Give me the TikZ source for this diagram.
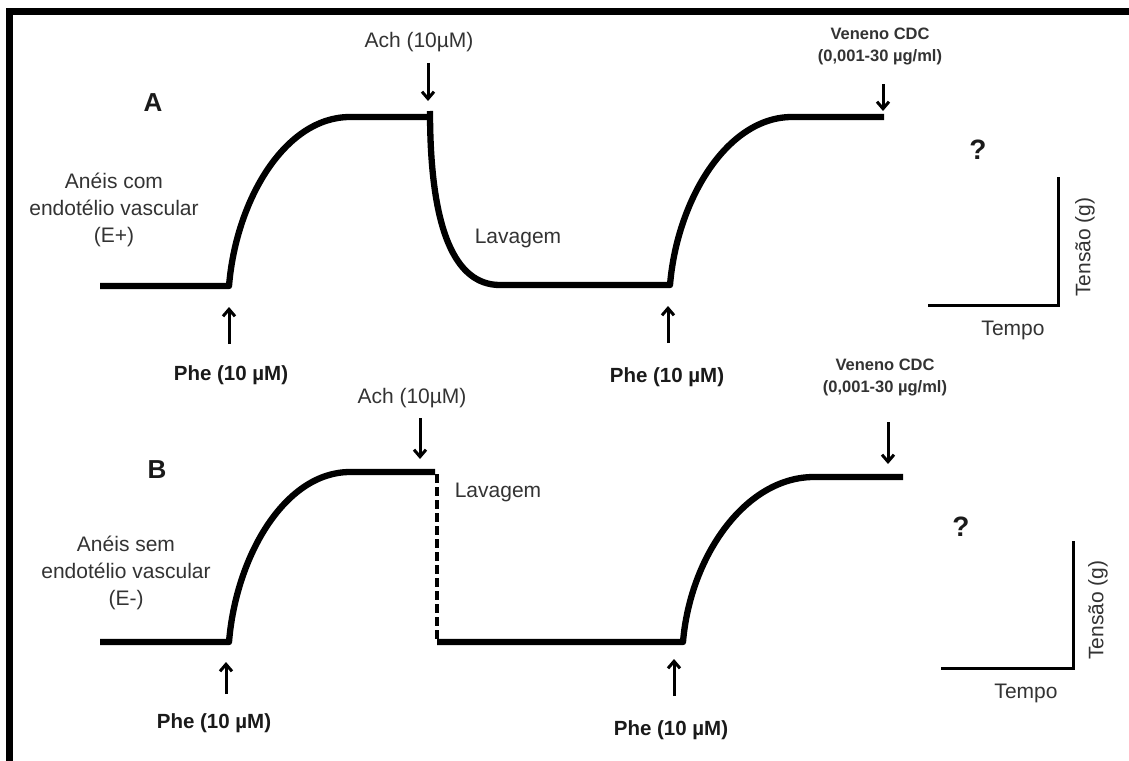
\documentclass[tikz,border=0pt]{standalone}
\usepackage{fontspec}
\setmainfont{Liberation Sans}
\usetikzlibrary{arrows.meta}
\definecolor{txt}{HTML}{333333}
\definecolor{txtb}{HTML}{1A1A1A}
\begin{document}
\begin{tikzpicture}[x=1pt,y=-1pt,
  trace/.style={line width=6.3pt, line cap=butt, line join=round},
  washdash/.style={line width=4pt, dash pattern=on 9pt off 4pt},
  evtarrow/.style={line width=3pt, -{Straight Barb[length=7pt,width=12pt,line width=3pt]}},
  axisline/.style={line width=3pt, line join=miter},
  lbl/.style={font=\fontsize{21}{27}\selectfont, text=txt, inner sep=0pt, align=center},
  lblb/.style={font=\bfseries\fontsize{20.5}{25}\selectfont, text=txtb, inner sep=0pt},
  smalllbl/.style={font=\bfseries\fontsize{16.5}{22}\selectfont, text=txt, inner sep=0pt, align=center},
  panel/.style={font=\bfseries\fontsize{26}{30}\selectfont, text=txtb, inner sep=0pt},
  qmark/.style={font=\bfseries\fontsize{28}{30}\selectfont, text=txtb, inner sep=0pt}]

\useasboundingbox (0,0) rectangle (1129,760);
\fill[white] (0,0) rectangle (1129,760);

% frame (top and left)
\draw[line width=7pt, line join=miter] (9.5,775) -- (9.5,12) -- (1140,12);

% ---------------- Panel A ----------------
\node[panel] (pA) at (153,103) {A};
\node[lbl] (ringsA) at (114,210) {Anéis com\\endotélio vascular\\(E+)};
\node[lbl] (achA) at (419,42) {Ach (10µM)};
\node[smalllbl] (venA) at (880,46) {Veneno CDC\\(0,001-30 µg/ml)};
\node[lbl] (lavA) at (518,238) {Lavagem};
\node[lblb] (pheA1) at (231,375) {Phe (10 µM)};
\node[lblb] (pheA2) at (667,377) {Phe (10 µM)};
\node[qmark] (qA) at (978,150) {?};

\draw[trace] (100,286) -- (229,286)
  .. controls (236,200) and (285,117) .. (350,117) -- (430,117);
\draw[trace] (430,111) .. controls (430,230) and (455,285) .. (500,285)
  -- (670,285) .. controls (677,200) and (727,117) .. (792,117) -- (884,117);

\coordinate (achAs) at (428,63);  \coordinate (achAt) at (428,101);
\coordinate (venAs) at (883,84);  \coordinate (venAt) at (883,111);
\coordinate (pheA1s) at (229,344); \coordinate (pheA1t) at (229,307);
\coordinate (pheA2s) at (668,343); \coordinate (pheA2t) at (668,306);
\draw[evtarrow] (achAs) -- (achAt);
\draw[evtarrow] (venAs) -- (venAt);
\draw[evtarrow] (pheA1s) -- (pheA1t);
\draw[evtarrow] (pheA2s) -- (pheA2t);

% axes A
\coordinate (axAtop) at (1058,177);
\coordinate (axAcor) at (1058,305);
\coordinate (axAleft) at (928,305);
\draw[axisline] (axAtop) -- (axAcor) -- (axAleft);
\node[lbl, rotate=90] (tensA) at (1085,247) {Tensão (g)};
\node[lbl] (tempoA) at (1013,330) {Tempo};

% ---------------- Panel B ----------------
\node[panel] (pB) at (157,470) {B};
\node[lbl] (ringsB) at (126,573) {Anéis sem\\endotélio vascular\\(E-)};
\node[lbl] (achB) at (412,398) {Ach (10µM)};
\node[smalllbl] (venB) at (885,377) {Veneno CDC\\(0,001-30 µg/ml)};
\node[lbl] (lavB) at (498,492) {Lavagem};
\node[lblb] (pheB1) at (214,723) {Phe (10 µM)};
\node[lblb] (pheB2) at (671,730) {Phe (10 µM)};
\node[qmark] (qB) at (961,527) {?};

\draw[trace] (100,642) -- (229,642)
  .. controls (236,556) and (285,472) .. (350,472) -- (435,472);
\draw[washdash] (437,474) -- (437,640);
\draw[trace] (437,642) -- (683,642)
  .. controls (690,557) and (745,477) .. (814,477) -- (903,477);

\coordinate (achBs) at (420,418); \coordinate (achBt) at (420,459);
\coordinate (venBs) at (888,422); \coordinate (venBt) at (888,464);
\coordinate (pheB1s) at (226,694); \coordinate (pheB1t) at (226,662);
\coordinate (pheB2s) at (674,696); \coordinate (pheB2t) at (674,659);
\draw[evtarrow] (achBs) -- (achBt);
\draw[evtarrow] (venBs) -- (venBt);
\draw[evtarrow] (pheB1s) -- (pheB1t);
\draw[evtarrow] (pheB2s) -- (pheB2t);

% axes B
\coordinate (axBtop) at (1073,541);
\coordinate (axBcor) at (1073,668);
\coordinate (axBleft) at (941,668);
\draw[axisline] (axBtop) -- (axBcor) -- (axBleft);
\node[lbl, rotate=90] (tensB) at (1098,610) {Tensão (g)};
\node[lbl] (tempoB) at (1026,693) {Tempo};
\end{tikzpicture}
\end{document}
